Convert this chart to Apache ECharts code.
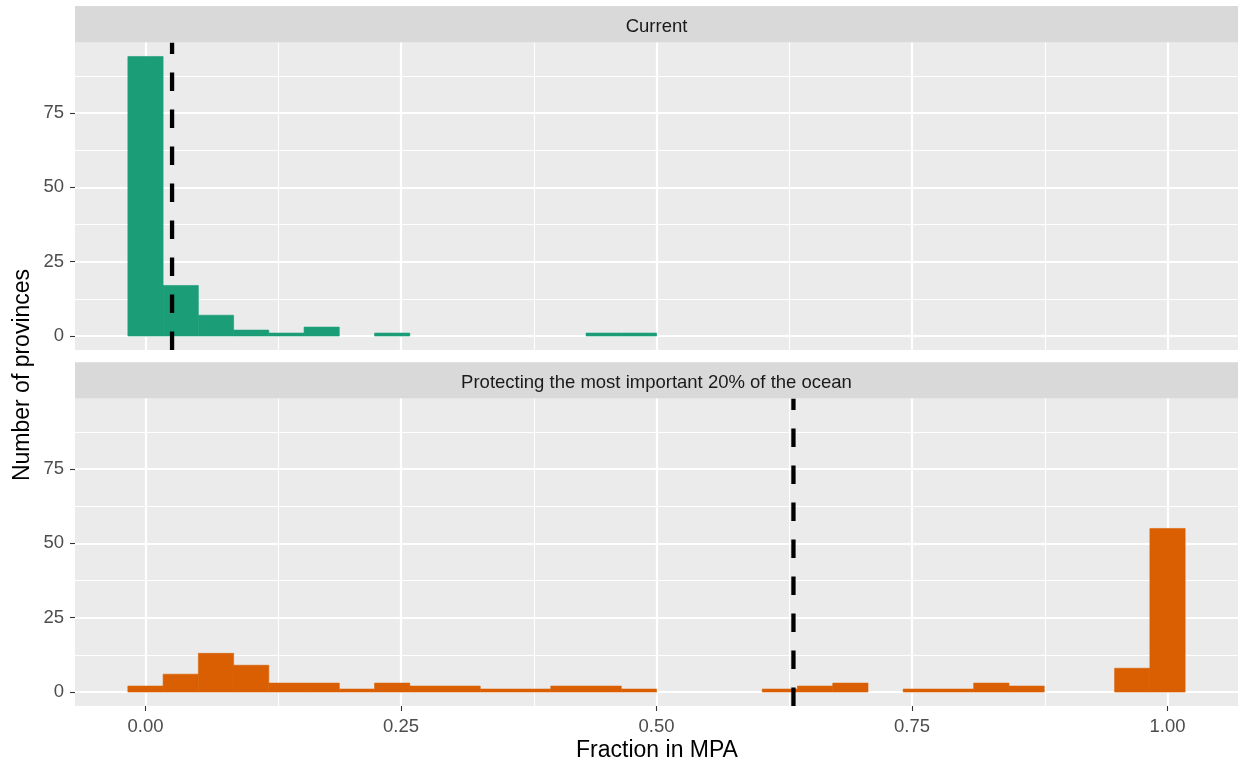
<!DOCTYPE html>
<html>
<head>
<meta charset="utf-8">
<script src="https://cdn.jsdelivr.net/npm/echarts@6/dist/echarts.min.js"></script>
<style>
html,body{margin:0;padding:0;background:#fff;}
#chart{width:1238px;height:765px;}
</style>
</head>
<body>
<div id="chart"></div>
<script>
// ---- data ----
const binCenters = [0.0000,0.0345,0.0690,0.1034,0.1379,0.1724,0.2069,0.2414,0.2759,0.3103,
                    0.3448,0.3793,0.4138,0.4483,0.4828,0.5172,0.5517,0.5862,0.6207,0.6552,
                    0.6897,0.7241,0.7586,0.7931,0.8276,0.8621,0.8966,0.9310,0.9655,1.0000];
const binWidth = 1 / 29;
const currentCounts = [94,17,7,2,1,3,0,1,0,0,0,0,0,1,1,0,0,0,0,0,0,0,0,0,0,0,0,0,0,0];
const protectCounts = [2,6,13,9,3,3,1,3,2,2,1,1,2,2,1,0,0,0,1,2,3,0,1,1,3,2,0,0,8,55];
const meanValues = [0.026, 0.634];
const panelTitles = ['Current', 'Protecting the most important 20% of the ocean'];
const panelColors = ['#1B9E77', '#D95F02'];
const xTicks = [0, 0.25, 0.5, 0.75, 1];
const xMinorGrid = [0.125, 0.375, 0.625, 0.875];
const yTicks = [0, 25, 50, 75];
const yMinorGrid = [12.5, 37.5, 62.5, 87.5];
const xTitle = 'Fraction in MPA';
const yTitle = 'Number of provinces';

// ---- layout ----
const X_MIN = -0.5 / 29 - 0.05 * (30 / 29), X_MAX = 1 + 0.5 / 29 + 0.05 * (30 / 29);
const Y_MAX_DATA = Math.max(...currentCounts, ...protectCounts);
const Y_MIN = -0.05 * Y_MAX_DATA, Y_MAX = 1.05 * Y_MAX_DATA;
const L = 75, W = 1163;
const panels = [
  {stripTop: 6, stripH: 36.5, top: 42.5, h: 307.5},
  {stripTop: 362.3, stripH: 36.2, top: 398.5, h: 307.5}
];
const FONT = 'Liberation Sans, Arial, Helvetica, sans-serif';

const chart = echarts.init(document.getElementById('chart'), null, {renderer: 'canvas'});

const grids = panels.map(p => ({left: L, top: p.top, width: W, height: p.h, show: true,
  backgroundColor: '#EBEBEB', borderWidth: 0, containLabel: false}));

const xAxes = panels.map((p, i) => ({
  type: 'value', gridIndex: i, min: X_MIN, max: X_MAX, position: 'bottom',
  axisLine: {show: false, onZero: false}, splitLine: {show: false},
  axisTick: {show: i === 1, length: 5, lineStyle: {color: '#333333', width: 1.1}, customValues: xTicks},
  axisLabel: {show: i === 1, customValues: xTicks, formatter: v => v.toFixed(2),
    color: '#4D4D4D', fontSize: 18.5, fontFamily: FONT, margin: 11}
}));
const yAxes = panels.map((p, i) => ({
  type: 'value', gridIndex: i, min: Y_MIN, max: Y_MAX, position: 'left',
  axisLine: {show: false, onZero: false}, splitLine: {show: false},
  axisTick: {show: true, length: 5, lineStyle: {color: '#333333', width: 1.1}, customValues: yTicks},
  axisLabel: {show: true, customValues: yTicks, color: '#4D4D4D', fontSize: 18.5, fontFamily: FONT, margin: 11}
}));

const series = [];
const allCounts = [currentCounts, protectCounts];
panels.forEach((p, i) => {
  // gridlines (behind bars)
  const gl = [];
  xMinorGrid.forEach(v => gl.push({xAxis: v, lineStyle: {width: 1.1}}));
  yMinorGrid.forEach(v => gl.push({yAxis: v, lineStyle: {width: 1.1}}));
  xTicks.forEach(v => gl.push({xAxis: v, lineStyle: {width: 2.2}}));
  yTicks.forEach(v => gl.push({yAxis: v, lineStyle: {width: 2.2}}));
  series.push({
    type: 'line', xAxisIndex: i, yAxisIndex: i, data: [], z: 0, silent: true,
    markLine: {silent: true, z: 0, symbol: ['none', 'none'], label: {show: false}, animation: false,
      lineStyle: {color: '#FFFFFF', type: 'solid'}, emphasis: {disabled: true}, data: gl}
  });
  // histogram
  const data = binCenters.map((c, k) => [c - binWidth / 2, c + binWidth / 2, allCounts[i][k]])
    .filter(d => d[2] > 0);
  const color = panelColors[i];
  series.push({
    type: 'custom', xAxisIndex: i, yAxisIndex: i, z: 3, clip: true, silent: true,
    data: data,
    renderItem: (params, api) => {
      const p0 = api.coord([api.value(0), 0]);
      const p1 = api.coord([api.value(1), api.value(2)]);
      return {type: 'rect', shape: {x: p0[0], y: p1[1], width: p1[0] - p0[0], height: p0[1] - p1[1]},
        style: {fill: color, stroke: color, lineWidth: 0.6}};
    }
  });
  // mean line (dashed, drawn from bottom to top of panel)
  series.push({
    type: 'custom', xAxisIndex: i, yAxisIndex: i, z: 4, clip: true, silent: true,
    data: [[meanValues[i]]],
    renderItem: (params, api) => {
      const b = api.coord([api.value(0), Y_MIN]);
      const t = api.coord([api.value(0), Y_MAX]);
      return {type: 'line', shape: {x1: b[0], y1: b[1], x2: t[0], y2: t[1]},
        style: {stroke: '#000000', lineWidth: 4.3, lineDash: [18.5, 18.5], lineCap: 'butt', fill: null}};
    }
  });
});

const graphics = [];
panels.forEach((p, i) => {
  graphics.push({type: 'rect', left: L, top: p.stripTop, shape: {x: 0, y: 0, width: W, height: p.stripH},
    style: {fill: '#D9D9D9'}, silent: true, z: 0});
  graphics.push({type: 'text', x: L + W / 2, y: p.stripTop + p.stripH / 2 + 2.3,
    style: {text: panelTitles[i], fill: '#1A1A1A', fontSize: 18.5, fontFamily: FONT,
      align: 'center', verticalAlign: 'middle'}, silent: true, z: 1});
});
graphics.push({type: 'text', x: 657, y: 751,
  style: {text: xTitle, fill: '#000000', fontSize: 23, fontFamily: FONT, align: 'center', verticalAlign: 'middle'}});
graphics.push({type: 'text', x: 23, y: 375, rotation: Math.PI / 2,
  style: {text: yTitle, fill: '#000000', fontSize: 23, fontFamily: FONT, align: 'center', verticalAlign: 'middle'}});

chart.setOption({
  backgroundColor: '#FFFFFF',
  animation: false,
  grid: grids,
  xAxis: xAxes,
  yAxis: yAxes,
  series: series,
  graphic: graphics
});
</script>
</body>
</html>
